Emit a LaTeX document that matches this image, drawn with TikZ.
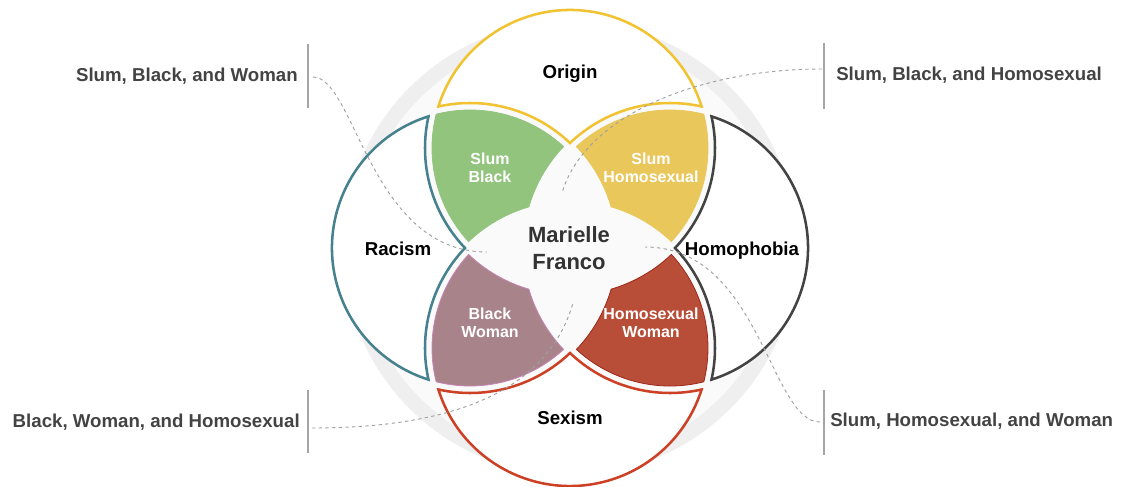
\documentclass[tikz,border=0pt]{standalone}
\usepackage{fontspec}
\setmainfont{Liberation Sans}

\definecolor{ringgray}{HTML}{EFEFEF}
\definecolor{innerwhite}{HTML}{FAFAFA}
\definecolor{petalgreen}{HTML}{93C47D}
\definecolor{petalyellow}{HTML}{E9C75B}
\definecolor{petalmauve}{HTML}{A8838A}
\definecolor{mauveedge}{HTML}{C983B4}
\definecolor{petalred}{HTML}{B84E38}
\definecolor{rededge}{HTML}{A0281A}
\definecolor{originyellow}{HTML}{F1C232}
\definecolor{racismteal}{HTML}{45818E}
\definecolor{sexismred}{HTML}{CC4125}
\definecolor{homogray}{HTML}{434343}
\definecolor{calloutgray}{HTML}{434343}
\definecolor{centertext}{HTML}{333333}
\definecolor{bargray}{HTML}{A5A5A5}
\definecolor{leadgray}{HTML}{A0A0A0}

\begin{document}
\begin{tikzpicture}[x=0.75pt,y=0.75pt,
  outline/.style={line width=1.9pt, fill=white, line join=miter},
  petalshape/.style={line width=0.6pt},
  catlbl/.style={font=\bfseries\fontsize{14}{16}\selectfont, text=black, inner sep=0, anchor=base},
  petallbl/.style={font=\bfseries\fontsize{12}{13.5}\selectfont, text=white, align=center, inner sep=0},
  callout/.style={font=\bfseries\fontsize{14}{16}\selectfont, text=calloutgray, inner sep=0},
  bar/.style={draw=bargray, line width=2pt},
  leader/.style={draw=leadgray, line width=0.7pt, dash pattern=on 2.5pt off 2.5pt}
]
\useasboundingbox (-570,-238) rectangle (551,248);

% background ring and light inner disc
\fill[ringgray] (0,0) circle[radius=227];
\fill[innerwhite] (0,0) circle[radius=212];

% four circles of radius 138 at distance 100 from the centre;
% each quarter: one outer white shape and one coloured overlap petal
\foreach \rot/\pfill/\pline/\oline in {
    0/petalgreen/petalgreen/originyellow,
    90/petalmauve/mauveedge/racismteal,
    180/petalred/rededge/sexismred,
    270/petalyellow/petalyellow/homogray} {
  \begin{scope}[rotate=\rot]
    % overlap petal
    \filldraw[petalshape, fill=\pfill, draw=\pline]
      (-6.41,101.42)
      arc[start angle=47.30, end angle=104.18, radius=138]
      arc[start angle=165.82, end angle=222.70, radius=138]
      arc[start angle=133.62, end angle=106.25, radius=147]
      arc[start angle=163.75, end angle=136.38, radius=147]
      -- cycle;
    % outer category shape
    \filldraw[outline, draw=\oline]
      (131.61,141.51)
      arc[start angle=17.50, end angle=162.50, radius=138]
      arc[start angle=102.59, end angle=46.40, radius=145]
      arc[start angle=133.60, end angle=77.41, radius=145]
      -- cycle;
  \end{scope}
}

% category labels
\node[catlbl] (origin) at (0,170) {Origin};
\node[catlbl] (racism) at (-172,-7) {Racism};
\node[catlbl] (homophobia) at (172,-7) {Homophobia};
\node[catlbl] (sexism) at (0,-176) {Sexism};

% petal labels
\node[petallbl] (slumblack) at (-80,80) {Slum\\Black};
\node[petallbl] (slumhomo) at (81,80) {Slum\\Homosexual};
\node[petallbl] (blackwoman) at (-80,-74.5) {Black\\Woman};
\node[petallbl] (homowoman) at (81,-74.5) {Homosexual\\Woman};

% centre
\node[font=\bfseries\fontsize{16.5}{20.5}\selectfont, text=centertext, align=center, inner sep=0]
  (marielle) at (-1,0) {Marielle\\Franco};

% callout bars
\draw[bar] (-262,204) coordinate (tltop) -- (-262,140) coordinate (tlbot);
\draw[bar] (254,205) coordinate (trtop) -- (254,139) coordinate (trbot);
\draw[bar] (-262,-142) coordinate (bltop) -- (-262,-205) coordinate (blbot);
\draw[bar] (254,-142) coordinate (brtop) -- (254,-207) coordinate (brbot);

% callout texts
\node[callout, anchor=east] (tltext) at (-272,172) {Slum, Black, and Woman};
\node[callout, anchor=west] (trtext) at (266,173) {Slum, Black, and Homosexual};
\node[callout, anchor=east] (bltext) at (-270,-174) {Black, Woman, and Homosexual};
\node[callout, anchor=west] (brtext) at (260,-173) {Slum, Homosexual, and Woman};

% leader start and end points
\coordinate (tlstart) at (-257,171);
\coordinate (tlend) at (-83,-4);
\coordinate (trstart) at (252,179);
\coordinate (trend) at (-8,55);
\coordinate (blstart) at (-258,-180);
\coordinate (blend) at (3,-55);
\coordinate (brstart) at (250,-174);
\coordinate (brend) at (75,1);

% dashed leaders
\draw[leader] (tlstart) .. controls (-215,171) and (-200,-4) .. (tlend);
\draw[leader] (trstart) .. controls (130,179) and (15,133) .. (trend);
\draw[leader] (blstart) .. controls (-100,-180) and (-20,-134) .. (blend);
\draw[leader] (brstart) .. controls (200,-174) and (190,1) .. (brend);
\end{tikzpicture}
\end{document}
